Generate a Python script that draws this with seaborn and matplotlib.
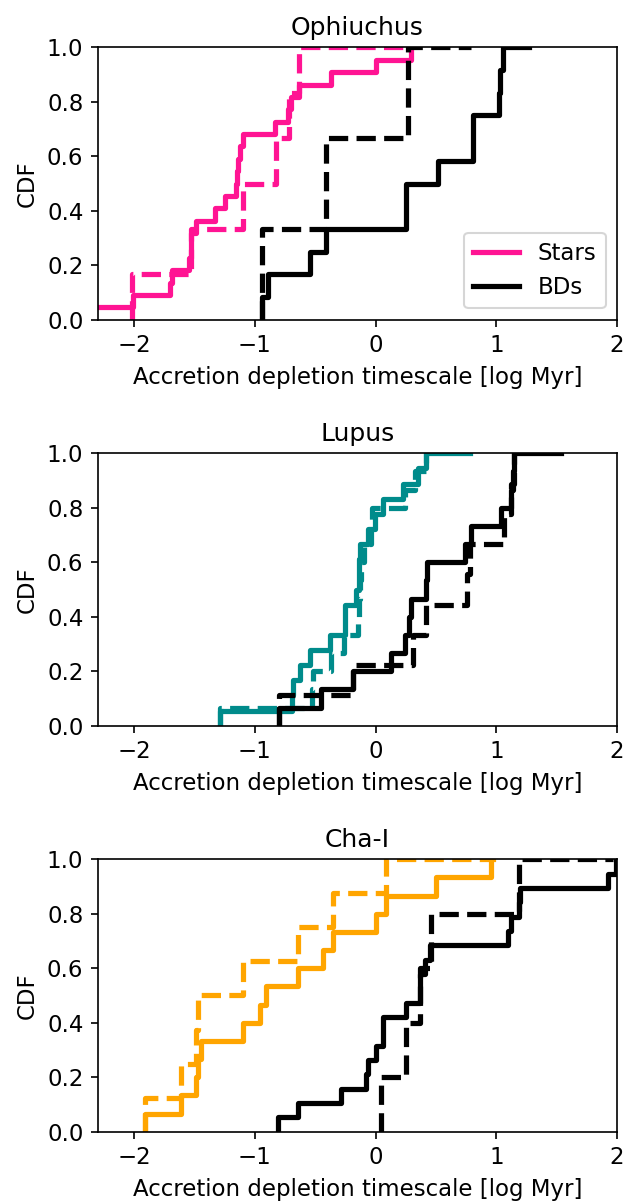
import numpy as np
import matplotlib
matplotlib.use("Agg")
import matplotlib.pyplot as plt
from matplotlib.lines import Line2D
import seaborn as sns

plt.rcParams.update({"font.size": 11, "axes.titlesize": 12})

# Accretion depletion timescales [log Myr].
# Each region has two samples per class (solid and dashed curves).
regions = ["Ophiuchus", "Lupus", "Cha-I"]
star_colors = ["#ff1493", "#008b8b", "#ffa500"]
bd_color = "black"

# Ophiuchus
oph_stars_solid = [-2.45, -2.01, -1.70, -1.685, -1.547, -1.527, -1.527, -1.486,
                   -1.33, -1.25, -1.157, -1.15, -1.14, -1.12, -1.10, -0.835,
                   -0.725, -0.697, -0.636, -0.366, 0.0, 0.29]
oph_stars_dashed = [-2.02, -1.527, -1.10, -0.823, -0.718, -0.638]
oph_bds_solid = [-0.941, -0.892, -0.547, -0.409, 0.255, 0.256, 0.517, 0.806,
                 0.808, 1.02, 1.03, 1.055]
oph_bds_dashed = [-0.94, -0.409, 0.268]

# Lupus
lup_stars_solid = [-1.29, -0.69, -0.685, -0.63, -0.546, -0.381, -0.252, -0.25,
                   -0.16, -0.136, -0.134, -0.13, -0.063, -0.008, 0.061, 0.227,
                   0.351, 0.42]
lup_stars_dashed = [-1.29, -0.53, -0.52, -0.367, -0.26, -0.145, -0.14, -0.13,
                    -0.12, -0.10, -0.04, -0.03, 0.24, 0.33, 0.42]
lup_bds_solid = [-0.80, -0.45, -0.19, 0.13, 0.24, 0.28, 0.29, 0.42, 0.43,
                 0.738, 0.79, 1.04, 1.125, 1.14, 1.15]
lup_bds_dashed = [-0.80, -0.19, 0.31, 0.42, 0.76, 0.78, 1.06, 1.12, 1.15]

# Cha-I
cha_stars_solid = [-1.913, -1.61, -1.486, -1.47, -1.444, -1.099, -0.96, -0.905,
                   -0.643, -0.436, -0.353, 0.006, 0.089, 0.503, 0.959]
cha_stars_dashed = [-1.913, -1.61, -1.49, -1.47, -1.099, -0.643, -0.353, 0.089]
cha_bds_solid = [-0.808, -0.643, -0.284, -0.077, -0.063, 0.006, 0.06, 0.065,
                 0.255, 0.365, 0.37, 0.41, 0.45, 1.097, 1.12, 1.19, 1.20,
                 1.925, 1.99]
cha_bds_dashed = [0.048, 0.255, 0.365, 0.46, 1.19]

# where each curve stops on the right (flat part at CDF = 1)
oph_ends = [0.29, 0.29, 1.27, 0.79]
lup_ends = [0.78, 0.42, 1.54, 1.15]
cha_ends = [0.97, 0.95, 1.99, 1.97]

samples = [
    (oph_stars_solid, oph_stars_dashed, oph_bds_solid, oph_bds_dashed, oph_ends),
    (lup_stars_solid, lup_stars_dashed, lup_bds_solid, lup_bds_dashed, lup_ends),
    (cha_stars_solid, cha_stars_dashed, cha_bds_solid, cha_bds_dashed, cha_ends),
]


def draw_cdf(ax, values, end, color, ls):
    """Step CDF of the values, kept flat at 1 up to `end`."""
    v = np.sort(np.asarray(values, dtype=float))
    n = len(v)
    x = np.r_[v[0], v, end]
    y = np.r_[0.0, np.arange(1, n + 1) / n, 1.0]
    sns.lineplot(x=x, y=y, ax=ax, color=color, lw=2.5, linestyle=ls,
                 drawstyle="steps-post", estimator=None, sort=False)


fig, axes = plt.subplots(3, 1, figsize=(626 / 150, 1202 / 150))
fig.subplots_adjust(left=0.1565, right=0.9856, top=0.9606, bottom=0.0585,
                    hspace=0.49)

for ax, region, col, (s_sol, s_dash, b_sol, b_dash, ends) in zip(
        axes, regions, star_colors, samples):
    draw_cdf(ax, s_sol, ends[0], col, "-")
    draw_cdf(ax, s_dash, ends[1], col, "--")
    draw_cdf(ax, b_sol, ends[2], bd_color, "-")
    draw_cdf(ax, b_dash, ends[3], bd_color, "--")

    ax.set_xlim(-2.3, 2)
    ax.set_ylim(0, 1)
    ax.set_xticks([-2, -1, 0, 1, 2])
    ax.set_yticks([0, 0.2, 0.4, 0.6, 0.8, 1.0])
    ax.set_title(region)
    ax.set_xlabel("Accretion depletion timescale [log Myr]")
    ax.set_ylabel("CDF")

# legend only on the top panel
handles = [Line2D([], [], color=star_colors[0], lw=2.5),
           Line2D([], [], color=bd_color, lw=2.5)]
axes[0].legend(handles, ["Stars", "BDs"], loc="lower right", fontsize=11)

fig.savefig("out.png", dpi=150)
